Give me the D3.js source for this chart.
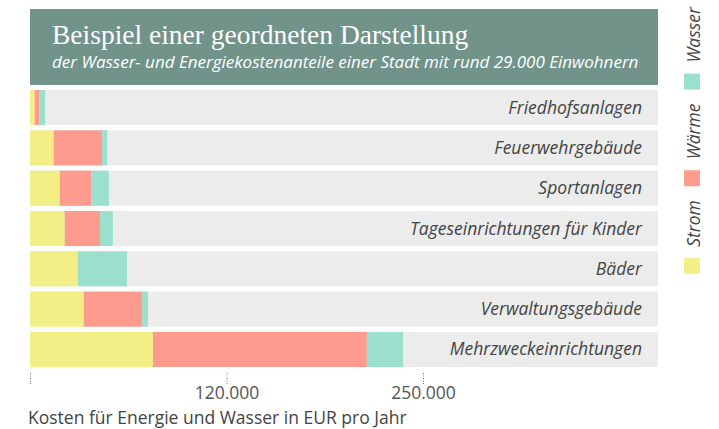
<!DOCTYPE html>
<html>
<head>
<meta charset="utf-8">
<script src="https://cdn.jsdelivr.net/npm/d3@7"></script>
<style>
  body { margin: 0; background: #fff; }
  svg { display: block; }
</style>
</head>
<body>
<div id="container"></div>
<script>
// categories, top to bottom
let categories = ["Friedhofsanlagen", "Feuerwehrgebäude", "Sportanlagen",
  "Tageseinrichtungen für Kinder", "Bäder", "Verwaltungsgebäude", "Mehrzweckeinrichtungen"];

// costs in EUR per year
let strom  = [3000, 15100, 18900, 22100, 30400, 34200, 78200];
let waerme = [2800, 30800, 20000, 22500, 0, 37200, 136100];
let wasser = [3800, 3200, 11300, 8100, 31300, 3600, 23000];

let seriesNames = ["Strom", "Wärme", "Wasser"];
let seriesColors = ["#f2ef87", "#fe9b8f", "#9be0ce"];

let tickValues = [0, 125000, 250000];
let tickLabels = ["", "120.000", "250.000"];

let w = 719;
let h = 429;

let viz = d3.select("#container")
  .append("svg")
    .attr("width", w)
    .attr("height", h)
;

// title box
viz.append("rect")
    .attr("x", 30)
    .attr("y", 9)
    .attr("width", 628)
    .attr("height", 76)
    .attr("fill", "#71938a")
;
viz.append("text")
    .attr("x", 52)
    .attr("y", 44)
    .attr("fill", "#fff")
    .style("font-family", "'Liberation Serif', serif")
    .style("font-size", "27.5px")
    .text("Beispiel einer geordneten Darstellung")
;
viz.append("text")
    .attr("x", 52)
    .attr("y", 68)
    .attr("fill", "#fff")
    .style("font-family", "'Open Sans', sans-serif")
    .style("font-style", "italic")
    .style("font-size", "17px")
    .text("der Wasser- und Energiekostenanteile einer Stadt mit rund 29.000 Einwohnern")
;

// build a table for stacking
let table = categories.map(function(c, i){
  return { cat: c, Strom: strom[i], "Wärme": waerme[i], Wasser: wasser[i] };
});
let stacked = d3.stack().keys(seriesNames)(table);

let xScale = d3.scaleLinear().domain([0, 250000]).range([30, 423]);
let yScale = d3.scaleBand().domain(categories).range([90, 367]).paddingInner(0.13);

// row backgrounds
viz.append("g").selectAll("rect")
  .data(categories)
  .enter()
  .append("rect")
    .attr("x", 30)
    .attr("y", function(d){ return yScale(d); })
    .attr("width", 628)
    .attr("height", yScale.bandwidth())
    .attr("fill", "#ebeceb")
;

// stacked bars
viz.append("g").selectAll("g")
  .data(stacked)
  .enter()
  .append("g")
    .attr("fill", function(d, i){ return seriesColors[i]; })
  .selectAll("rect")
  .data(function(d){ return d; })
  .enter()
  .append("rect")
    .attr("x", function(d){ return xScale(d[0]); })
    .attr("y", function(d){ return yScale(d.data.cat); })
    .attr("width", function(d){ return xScale(d[1]) - xScale(d[0]); })
    .attr("height", yScale.bandwidth())
;

// category labels
viz.append("g").selectAll("text")
  .data(categories)
  .enter()
  .append("text")
    .attr("x", 642)
    .attr("y", function(d){ return yScale(d) + yScale.bandwidth() / 2 + 6; })
    .attr("text-anchor", "end")
    .attr("fill", "#444")
    .style("font-family", "'Open Sans', sans-serif")
    .style("font-style", "italic")
    .style("font-size", "17.5px")
    .text(function(d){ return d; })
;

// x axis
let xAxis = d3.axisBottom(xScale)
  .tickValues(tickValues)
  .tickFormat(function(d, i){ return tickLabels[i]; })
  .tickSize(11)
  .tickPadding(3);
let xAxisGroup = viz.append("g")
    .attr("class", "xaxisgroup")
    .attr("transform", "translate(0,373)")
;
xAxisGroup.call(xAxis);
xAxisGroup.select(".domain").remove();
xAxisGroup.selectAll(".tick line")
    .attr("stroke", "#777")
    .attr("stroke-dasharray", "1,1.5")
;
xAxisGroup.selectAll(".tick text")
    .attr("fill", "#555")
    .style("font-family", "'Open Sans', sans-serif")
    .style("font-size", "17.5px")
;

viz.append("text")
    .attr("x", 28)
    .attr("y", 423.5)
    .attr("fill", "#444")
    .style("font-family", "'Open Sans', sans-serif")
    .style("font-size", "17.5px")
    .text("Kosten für Energie und Wasser in EUR pro Jahr")
;

// legend, rotated, stacked from the top: Wasser, Wärme, Strom
let legendOrder = [2, 1, 0];
let ly = 7;
legendOrder.forEach(function(si){
  let t = viz.append("text")
      .attr("fill", "#444")
      .attr("text-anchor", "end")
      .style("font-family", "'Open Sans', sans-serif")
      .style("font-style", "italic")
      .style("font-size", "17.5px")
      .text(seriesNames[si]);
  let len = t.node().getComputedTextLength();
  t.attr("transform", "translate(700," + ly + ") rotate(-90)");
  ly += len + 11;
  viz.append("rect")
      .attr("x", 684)
      .attr("y", ly)
      .attr("width", 16)
      .attr("height", 16)
      .attr("fill", seriesColors[si]);
  ly += 16 + 14;
});
</script>
</body>
</html>
